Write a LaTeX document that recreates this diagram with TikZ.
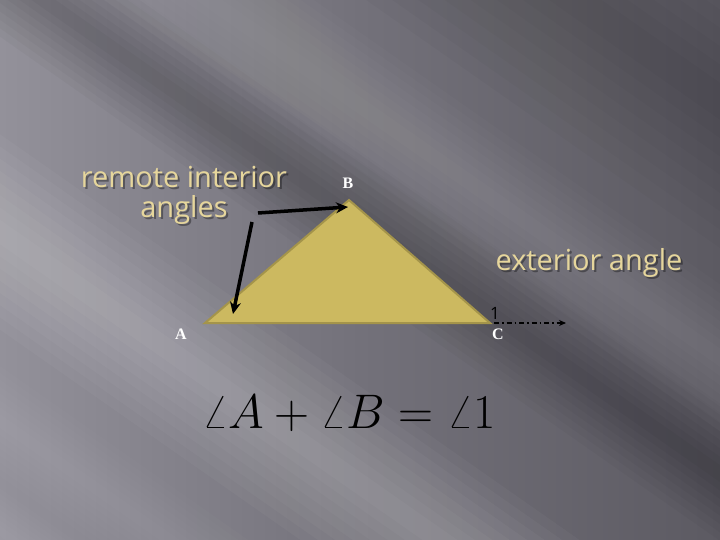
\documentclass[tikz,border=0pt]{standalone}
\usepackage{fontspec}
\setsansfont{Open Sans}
\newfontfamily\serifB{Liberation Serif}
\usetikzlibrary{arrows.meta}
\definecolor{bgdark}{HTML}{5C5A62}
\definecolor{bgmid}{HTML}{73717A}
\definecolor{bglight}{HTML}{93919A}
\definecolor{tri}{HTML}{CCB960}
\definecolor{triedge}{HTML}{A4944A}
\definecolor{beige}{HTML}{E6D69C}
\tikzset{
  lbl/.style={font=\serifB\bfseries\fontsize{16}{16}\selectfont, text=white, inner sep=0pt},
  title/.style={font=\sffamily\fontsize{29}{30}\selectfont, text=beige, align=center, inner sep=0pt},
  shadowtxt/.style={font=\sffamily\fontsize{29}{30}\selectfont, text=black, opacity=0.35, align=center, inner sep=0pt},
  pointer/.style={line width=3.5pt, draw=black, -{Stealth[length=12pt,width=11pt]}},
}
% soft band: #1 colour, #2 centre, #3 half width, #4 total opacity
\newcommand\softband[4]{%
  \foreach \k in {1,...,8}{%
    \fill[#1, fill opacity=#4/8] (-700,{#2-#3*\k/8}) rectangle (1500,{#2+#3*\k/8});
  }}
\begin{document}
\begin{tikzpicture}[x=1pt,y=-1pt]
\useasboundingbox (0,0) rectangle (720,540);
% background
\shade[left color=bglight, right color=bgdark, middle color=bgmid] (0,0) rectangle (720,540);
\begin{scope}
\clip (0,0) rectangle (720,540);
\begin{scope}[rotate=-35]
  \softband{black}{-25}{55}{0.22}
  \softband{white}{-120}{60}{0.12}
  \softband{white}{190}{80}{0.26}
  \softband{white}{345}{45}{0.12}
  \softband{white}{435}{35}{0.10}
  \softband{black}{-330}{120}{0.15}
\end{scope}
\end{scope}
% triangle
\coordinate (A) at (205,323);
\coordinate (B) at (349,200);
\coordinate (C) at (490,323);
\filldraw[fill=tri, draw=triedge, line width=2pt, line join=miter] (A) -- (B) -- (C) -- cycle;
% vertex labels
\node[lbl] (lA) at (181,334) {A};
\node[lbl] (lB) at (348,183) {B};
\node[lbl] (lC) at (498,334) {C};
\node[font=\sffamily\fontsize{17}{17}\selectfont, text=black, inner sep=0pt] (one) at (495,313) {1};
% exterior ray
\coordinate (Cs) at (494,323);
\coordinate (Ce) at (566,323);
\draw[line width=1.3pt, dash pattern=on 5pt off 3pt on 1.5pt off 3pt, -{Stealth[length=7pt,width=6pt]}] (Cs) -- (Ce);
% titles
\node[shadowtxt] at (186,197) {remote interior\\angles};
\node[title] (rem) at (184,195) {remote interior\\angles};
\node[shadowtxt] at (591,265) {exterior angle};
\node[title] (ext) at (589,263) {exterior angle};
% pointers
\coordinate (p1) at (258,213);
\coordinate (p1e) at (348,207);
\coordinate (p2) at (252,222);
\coordinate (p2e) at (233,314);
\draw[pointer] (p1) -- (p1e);
\draw[pointer] (p2) -- (p2e);
% formula
\node[inner sep=0pt, text=black, scale=1.95, font=\fontsize{24}{24}\selectfont] (eq) at (349,413) {$\angle A+\angle B=\angle 1$};
\end{tikzpicture}
\end{document}
